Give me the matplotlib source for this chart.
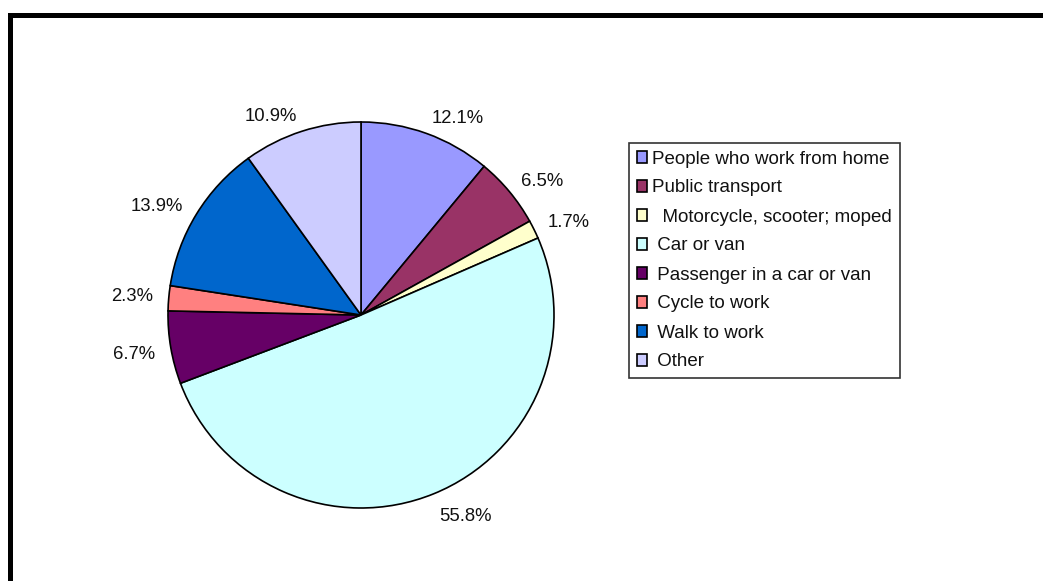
import matplotlib.pyplot as plt
from matplotlib.lines import Line2D

plt.rcParams['font.family'] = ['Liberation Sans', 'DejaVu Sans']

# travel to work shares, as printed on the chart
modes = ["People who work from home", "Public transport", "  Motorcycle, scooter; moped",
         " Car or van", " Passenger in a car or van", " Cycle to work", " Walk to work", " Other"]
shares = [12.1, 6.5, 1.7, 55.8, 6.7, 2.3, 13.9, 10.9]
colours = ["#9999FF", "#993366", "#FFFFCC", "#CCFFFF", "#660066", "#FF8080", "#0066CC", "#CCCCFF"]

W, H = 1043, 581
fig = plt.figure(figsize=(W / 100, H / 100), dpi=100)

# pie centred at (361, 315) px, radius 193 px
cx, cy, r = 361, 315, 193
half = 1.3 * r
ax = fig.add_axes([(cx - half) / W, (H - cy - half) / H, 2 * half / W, 2 * half / H])

wedges, texts = ax.pie(shares, colors=colours, startangle=90, counterclock=False,
                       labels=[f"{v:.1f}%" for v in shares], labeldistance=1.08,
                       wedgeprops=dict(edgecolor="black", linewidth=1.2),
                       textprops=dict(fontsize=13.3, color="#111111"))
# labels well below the centre hang under their anchor point
for t in texts:
    x, y = t.get_position()
    if y < -0.8:
        t.set_va("top")
    elif y < -0.1:
        t.set_position((x, y - 0.02))

ax.set_xlim(-1.3, 1.3)
ax.set_ylim(-1.3, 1.3)
ax.set_aspect("equal")
ax.axis("off")

leg = fig.legend(wedges, modes, loc="upper left",
                 bbox_to_anchor=(629 / W, 1 - 143 / H), frameon=True, fancybox=False,
                 edgecolor="black", fontsize=13.5, handlelength=0.55, handleheight=0.55,
                 handletextpad=0.3, labelspacing=0.64, borderaxespad=0, borderpad=0.4)
leg.get_frame().set_linewidth(1.2)
for t in leg.get_texts():
    t.set_color("#111111")

# thick frame along top and left
fig.add_artist(Line2D([9.5 / W, 1.01], [1 - 14.5 / H] * 2, color="black", lw=3.6,
                      transform=fig.transFigure, solid_capstyle="projecting"))
fig.add_artist(Line2D([9.5 / W] * 2, [-0.01, 1 - 14.5 / H], color="black", lw=3.6,
                      transform=fig.transFigure, solid_capstyle="projecting"))

fig.savefig("out.png", dpi=100)
